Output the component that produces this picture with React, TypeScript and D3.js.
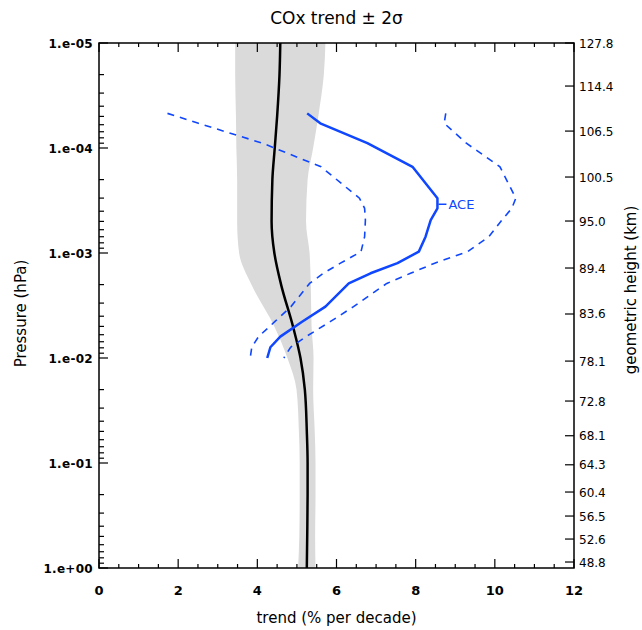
import * as d3 from "d3";

// pressure grid (hPa) for the mean trend and its 2-sigma band
const levels = [1e-5, 2e-5, 5e-5, 1e-4, 2e-4, 5e-4, 1e-3, 2e-3, 5e-3, 1e-2, 2e-2, 5e-2, 0.1, 0.2, 0.5, 1];
const trend = [4.58, 4.56, 4.5, 4.44, 4.38, 4.36, 4.43, 4.6, 4.9, 5.09, 5.2, 5.25, 5.27, 5.27, 5.26, 5.25];
const trendErr = [1.14, 1.12, 1.04, 0.97, 0.89, 0.87, 0.89, 0.75, 0.47, 0.33, 0.21, 0.2, 0.2, 0.2, 0.2, 0.22];

// ACE profile and its +-2 sigma limits
const aceP = [4.68e-5, 5.82e-5, 9.0e-5, 1.51e-4, 3.01e-4, 3.75e-4, 4.86e-4, 7.0e-4, 9.7e-4, 1.25e-3, 1.56e-3, 1.95e-3, 3.24e-3, 4.51e-3, 6.26e-3, 7.9e-3, 1.0e-2];
const aceTrend = [5.26, 5.59, 6.78, 7.92, 8.55, 8.55, 8.38, 8.25, 8.08, 7.54, 6.86, 6.31, 5.72, 5.13, 4.58, 4.33, 4.25];
const aceLow = [1.73, 2.51, 4.13, 5.61, 6.58, 6.71, 6.73, 6.71, 6.62, 6.1, 5.67, 5.32, 4.85, 4.44, 4.03, 3.86, 3.82];
const aceHigh = [8.76, 8.72, 9.28, 10.13, 10.53, 10.43, 10.18, 9.85, 9.31, 8.48, 7.87, 7.27, 6.43, 5.84, 5.23, 4.84, 4.67];

// axes
const pTicks = [1e-5, 1e-4, 1e-3, 1e-2, 1e-1, 1];
const pLabels = ["1.e-05", "1.e-04", "1.e-03", "1.e-02", "1.e-01", "1.e+00"];
const xTicks = [0, 2, 4, 6, 8, 10, 12];
const heightLabels = ["127.8", "114.4", "106.5", "100.5", "95.0", "89.4", "83.6", "78.1", "72.8", "68.1", "64.3", "60.4", "56.5", "52.6", "48.8"];
const heightP = [1e-5, 2.57e-5, 6.9e-5, 1.89e-4, 4.96e-4, 1.39e-3, 3.81e-3, 1.07e-2, 2.57e-2, 5.5e-2, 0.104, 0.189, 0.32, 0.53, 0.877];

const W = 642;
const H = 630;
const left = 99;
const right = 574;
const top = 43;
const bottom = 568;
const blue = "#0f46ff";
const font = "DejaVu Sans, sans-serif";

export default function App() {
  const x = d3.scaleLinear().domain([0, 12]).range([left, right]);
  const y = d3.scaleLog().domain([1e-5, 1]).range([top, bottom]);

  const band = d3
    .area<number>()
    .y((_, i) => y(levels[i]))
    .x0((_, i) => x(trend[i] - trendErr[i]))
    .x1((_, i) => x(trend[i] + trendErr[i]))
    .curve(d3.curveMonotoneY);

  const mean = d3
    .line<number>()
    .x((d) => x(d))
    .y((_, i) => y(levels[i]))
    .curve(d3.curveMonotoneY);

  const ace = d3
    .line<number>()
    .x((d) => x(d))
    .y((_, i) => y(aceP[i]));

  // minor log ticks 2..9 per decade
  const minorP: number[] = [];
  for (let e = -5; e < 0; e++) {
    for (let m = 2; m <= 9; m++) minorP.push(m * Math.pow(10, e));
  }
  const minorX = d3.range(0, 12.01, 0.5).filter((v) => v % 2 !== 0);

  const labY = (y(aceP[4]) + y(aceP[5])) / 2 + 1;
  const labX = x(aceTrend[4]);

  return (
    <svg width={W} height={H} style={{ position: "absolute", left: 0, top: 0, background: "white" }} fontFamily={font}>
      <text x={(left + right) / 2} y={24} fontSize={17} textAnchor="middle">
        COx trend ± 2σ
      </text>

      <path d={band(levels) || ""} fill="#dadada" />
      <path d={mean(trend) || ""} fill="none" stroke="black" strokeWidth={2.5} />

      <path d={ace(aceLow) || ""} fill="none" stroke={blue} strokeWidth={1.6} strokeDasharray="7,6" />
      <path d={ace(aceHigh) || ""} fill="none" stroke={blue} strokeWidth={1.6} strokeDasharray="7,6" />
      <path d={ace(aceTrend) || ""} fill="none" stroke={blue} strokeWidth={2.5} strokeLinejoin="round" />
      <line x1={labX + 1} x2={labX + 9} y1={labY} y2={labY} stroke={blue} strokeWidth={1.5} />
      <text x={labX + 11} y={labY + 5} fontSize={13} fill={blue}>
        ACE
      </text>

      {/* frame */}
      <rect x={left} y={top} width={right - left} height={bottom - top} fill="none" stroke="black" strokeWidth={1.5} />

      {/* x ticks top and bottom */}
      {xTicks.map((t) => (
        <g key={"xt" + t}>
          <line x1={x(t)} x2={x(t)} y1={bottom} y2={bottom - 9} stroke="black" strokeWidth={1.2} />
          <line x1={x(t)} x2={x(t)} y1={top} y2={top + 9} stroke="black" strokeWidth={1.2} />
          <text x={x(t)} y={595} fontSize={13} fontWeight="bold" textAnchor="middle">
            {t}
          </text>
        </g>
      ))}
      {minorX.map((t) => (
        <g key={"xm" + t}>
          <line x1={x(t)} x2={x(t)} y1={bottom} y2={bottom - 4} stroke="black" strokeWidth={1.2} />
          <line x1={x(t)} x2={x(t)} y1={top} y2={top + 4} stroke="black" strokeWidth={1.2} />
        </g>
      ))}

      {/* left pressure axis */}
      {pTicks.map((p, i) => (
        <g key={"pt" + p}>
          <line x1={left} x2={left + 9} y1={y(p)} y2={y(p)} stroke="black" strokeWidth={1.2} />
          <text x={93} y={y(p) + 4.5} fontSize={12} fontWeight="bold" textAnchor="end" letterSpacing={0.3}>
            {pLabels[i]}
          </text>
        </g>
      ))}
      {minorP.map((p) => (
        <line key={"pm" + p} x1={left} x2={left + 5} y1={y(p)} y2={y(p)} stroke="black" strokeWidth={1.2} />
      ))}

      {/* right height axis */}
      {heightP.map((p, i) => (
        <g key={"h" + i}>
          <line x1={right} x2={right - 9} y1={y(p)} y2={y(p)} stroke="black" strokeWidth={1.2} />
          <text x={579} y={y(p) + 4.5} fontSize={12}>
            {heightLabels[i]}
          </text>
        </g>
      ))}

      <text x={(left + right) / 2} y={623} fontSize={15} textAnchor="middle">
        trend (% per decade)
      </text>
      <text transform={`translate(26,${(top + bottom) / 2 + 8}) rotate(-90)`} fontSize={15} textAnchor="middle">
        Pressure (hPa)
      </text>
      <text transform={`translate(636,290) rotate(-90)`} fontSize={15} textAnchor="middle">
        geometric height (km)
      </text>
    </svg>
  );
}
